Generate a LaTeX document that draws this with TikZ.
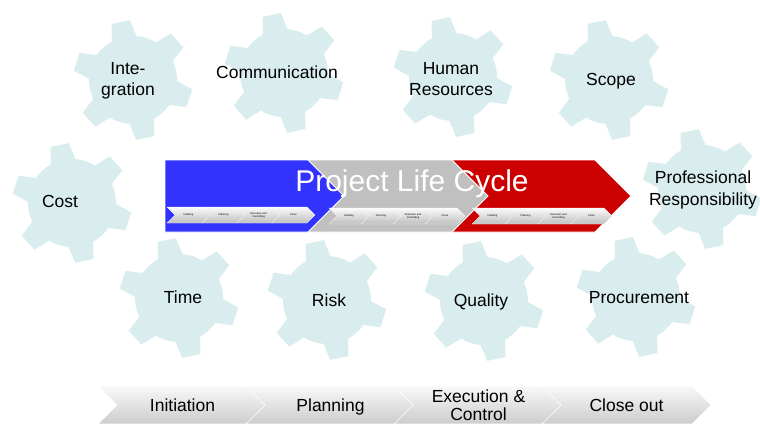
\documentclass[tikz,border=0pt]{standalone}
\usepackage{fontspec}
\setmainfont{Liberation Sans}
\usetikzlibrary{shapes.symbols, positioning, calc}
\definecolor{gearcyan}{RGB}{218,237,238}
\definecolor{lifeblue}{RGB}{51,51,255}
\definecolor{lifegray}{RGB}{192,192,192}
\definecolor{lifered}{RGB}{204,0,0}

\begin{document}
\begin{tikzpicture}[x=1pt,y=-1pt,
  gearpic/.pic={
    \fill[gearcyan] (0,0) circle (44);
    \foreach \a in {18,78,...,318}
      \fill[gearcyan] (\a-18:42) -- (\a-9:60) -- (\a+9:60) -- (\a+18:42) -- cycle;
  },
  gearlabel/.style={font=\fontsize{17.5}{21.5}\selectfont,align=center,inner sep=0pt,text depth=0pt},
  lifearrow/.style={draw=white,line width=0.8pt,line join=miter},
  substep/.style={signal,signal from=west,signal to=east,signal pointer angle=90,draw=white,line width=0.3pt,top color=gray!3,bottom color=gray!50,minimum height=16pt,inner sep=0pt,align=center,font=\fontsize{2.6}{3}\selectfont},
  phase/.style={signal,signal from=west,signal to=east,signal pointer angle=90,draw=white,line width=0.6pt,top color=gray!5,bottom color=gray!40,minimum width=169pt,minimum height=38pt,inner sep=0pt,text depth=0pt,align=center,font=\fontsize{17.5}{18}\selectfont}]
  \useasboundingbox (0,0) rectangle (760,423);

  % knowledge areas
  \pic at (133,80) {gearpic};
  \pic at (284,73) {gearpic};
  \pic at (453,77) {gearpic};
  \pic at (609,80) {gearpic};
  \pic at (72,203) {gearpic};
  \pic at (702,189) {gearpic};
  \pic at (179,298) {gearpic};
  \pic at (327,300) {gearpic};
  \pic at (484,301) {gearpic};
  \pic at (636,297) {gearpic};
  \node[gearlabel] (integration) at (128,79) {Inte-\\gration};
  \node[gearlabel] (communication) at (277,72) {Communication};
  \node[gearlabel] (human) at (451,79) {Human\\Resources};
  \node[gearlabel] (scope) at (611,79) {Scope};
  \node[gearlabel] (cost) at (60,201) {Cost};
  \node[gearlabel] (professional) at (703,188) {Professional\\Responsibility};
  \node[gearlabel] (time) at (183,297) {Time};
  \node[gearlabel] (risk) at (329,300) {Risk};
  \node[gearlabel] (quality) at (481,300) {Quality};
  \node[gearlabel] (procurement) at (639,297) {Procurement};

  % life cycle
  \fill[lifearrow,fill=lifered] (452,160) -- (595,160) -- (631,196) -- (595,232) -- (452,232) -- cycle;
  \fill[lifearrow,fill=lifegray] (308,160) -- (452,160) -- (488,196) -- (452,232) -- (308,232) -- cycle;
  \fill[lifearrow,fill=lifeblue] (165,160) -- (308,160) -- (344,196) -- (308,232) -- (165,232) -- cycle;
  \foreach \i/\t in {0/Initiating,1/Planning,2/{Execution and\\Controlling},3/Close}{
    \node[substep,minimum width=43pt] (blue\i) at (188.5+35*\i,215) {\t};
    \node[substep,minimum width=40pt] (gray\i) at (349+32*\i,216) {\t};
    \node[substep,minimum width=41pt] (red\i) at (492.5+33*\i,216) {\t};
  }
  \node[text=white,font=\fontsize{30}{36}\selectfont,inner sep=0pt] (lifecycle) at (412,184) {Project Life Cycle};

  % phases
  \node[phase] (init) at (182.5,405) {Initiation};
  \node[phase] (plan) at ([xshift=148pt]init.center) {Planning};
  \node[phase] (exec) at ([xshift=148pt]plan.center) {Execution \&\\Control};
  \node[phase] (close) at ([xshift=148pt]exec.center) {Close out};
\end{tikzpicture}
\end{document}
